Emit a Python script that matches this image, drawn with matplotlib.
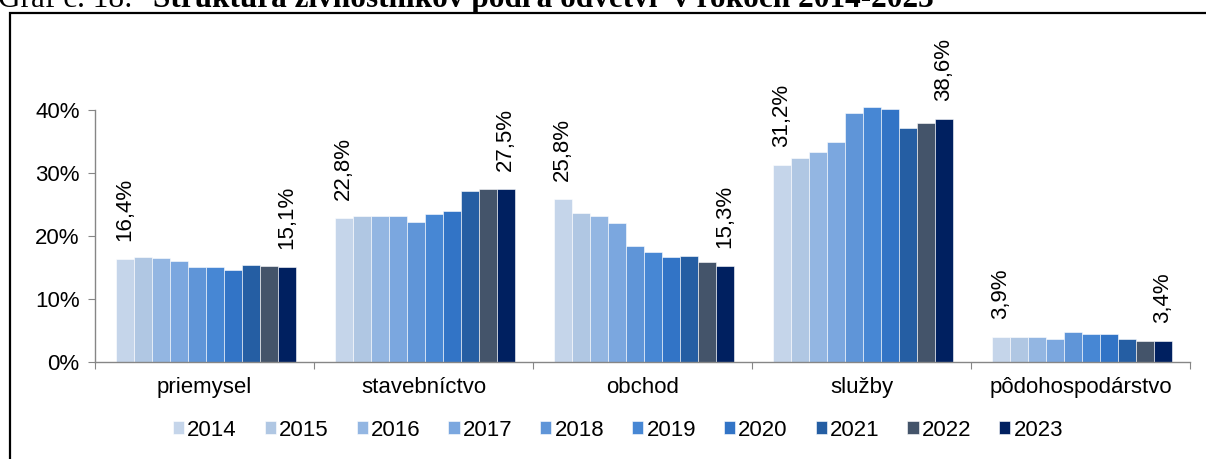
import numpy as np
import matplotlib
matplotlib.use("Agg")
import matplotlib.pyplot as plt
from matplotlib.patches import Rectangle
from matplotlib.ticker import FixedLocator, FuncFormatter

plt.rcParams["font.family"] = ["Liberation Sans", "DejaVu Sans"]

# shares of tradesmen by sector (percent)
sectors = ["priemysel", "stavebníctvo", "obchod", "služby", "pôdohospodárstvo"]
years = ["2014", "2015", "2016", "2017", "2018", "2019", "2020", "2021", "2022", "2023"]
priemysel = [16.4, 16.7, 16.5, 16.1, 15.1, 15.1, 14.6, 15.4, 15.2, 15.1]
stavebnictvo = [22.8, 23.2, 23.1, 23.1, 22.3, 23.5, 24.0, 27.1, 27.4, 27.5]
obchod = [25.8, 23.7, 23.2, 22.1, 18.4, 17.5, 16.7, 16.9, 15.9, 15.3]
sluzby = [31.2, 32.4, 33.4, 34.9, 39.6, 40.5, 40.2, 37.1, 38.0, 38.6]
podohosp = [3.9, 4.0, 3.9, 3.7, 4.7, 4.5, 4.5, 3.6, 3.4, 3.4]

colors = ["#C5D5EA", "#B0C7E3", "#93B6E2", "#7BA7DF", "#5F95D8",
          "#4787D4", "#3274C6", "#255EA3", "#44546A", "#002060"]

W, H = 1206, 459
fig = plt.figure(figsize=(W / 100, H / 100), dpi=100)
ax = fig.add_axes([95 / W, (H - 362) / H, (1190 - 95) / W, (362 - 110) / H])

data = np.array([priemysel, stavebnictvo, obchod, sluzby, podohosp]) / 100.0
n_groups, n_years = data.shape
x = np.arange(n_groups)
bw = 0.822 / n_years
offset0 = -0.411 + bw / 2 + 0.005

for j in range(n_years):
    ax.bar(x + offset0 + j * bw, data[:, j], width=bw, color=colors[j],
           edgecolor="white", linewidth=0.4, label=years[j], clip_on=False,
           zorder=2)

# data labels on first and last year of each group
for i in range(n_groups):
    for j in (0, n_years - 1):
        v = data[i, j]
        ax.annotate(f"{v * 100:.1f}%".replace(".", ","),
                    xy=(x[i] + offset0 + j * bw, v), xytext=(0, 13),
                    textcoords="offset points", rotation=90,
                    ha="center", va="bottom", fontsize=16,
                    annotation_clip=False)

ax.set_xlim(-0.5, n_groups - 0.5)
ax.set_ylim(0, 0.40)
ax.yaxis.set_major_locator(FixedLocator([0, 0.1, 0.2, 0.3, 0.4]))
ax.yaxis.set_major_formatter(FuncFormatter(lambda v, p: f"{v * 100:.0f}%"))
ax.xaxis.set_major_locator(FixedLocator(np.arange(n_groups + 1) - 0.5))
ax.xaxis.set_minor_locator(FixedLocator(x))
ax.set_xticklabels([], minor=False)
ax.set_xticklabels(sectors, minor=True)
ax.tick_params(axis="x", which="major", length=5, color="#868686", direction="out")
ax.tick_params(axis="x", which="minor", length=0, pad=11, labelsize=16)
ax.tick_params(axis="y", length=5, color="#868686", labelsize=16, pad=6)
for s in ("top", "right"):
    ax.spines[s].set_visible(False)
for s in ("left", "bottom"):
    ax.spines[s].set_color("#868686")
    ax.spines[s].set_linewidth(1.0)

leg = fig.legend(loc="center", bbox_to_anchor=(618 / W, (H - 430) / H), ncol=10,
                 frameon=False, handlelength=0.5, handleheight=0.5,
                 handletextpad=0.15, columnspacing=1.25, fontsize=16)

# page frame and the cropped caption above it
fig.patches.append(Rectangle((10 / W, -0.1), 1.2, (H - 13) / H + 0.1,
                             transform=fig.transFigure, fill=False,
                             edgecolor="black", linewidth=1.6))
fig.text(-2 / W, (H - 6.7) / H, "Graf č. 18: ", fontsize=22.5,
         family=["Liberation Serif", "DejaVu Serif"], va="baseline", ha="left")
fig.text(153 / W, (H - 6.7) / H,
         "Štruktúra živnostníkov podľa odvetví  v rokoch 2014-2023", fontsize=22.5,
         fontweight="bold", family=["Liberation Serif", "DejaVu Serif"],
         va="baseline", ha="left")

fig.savefig("out.png", dpi=100)
